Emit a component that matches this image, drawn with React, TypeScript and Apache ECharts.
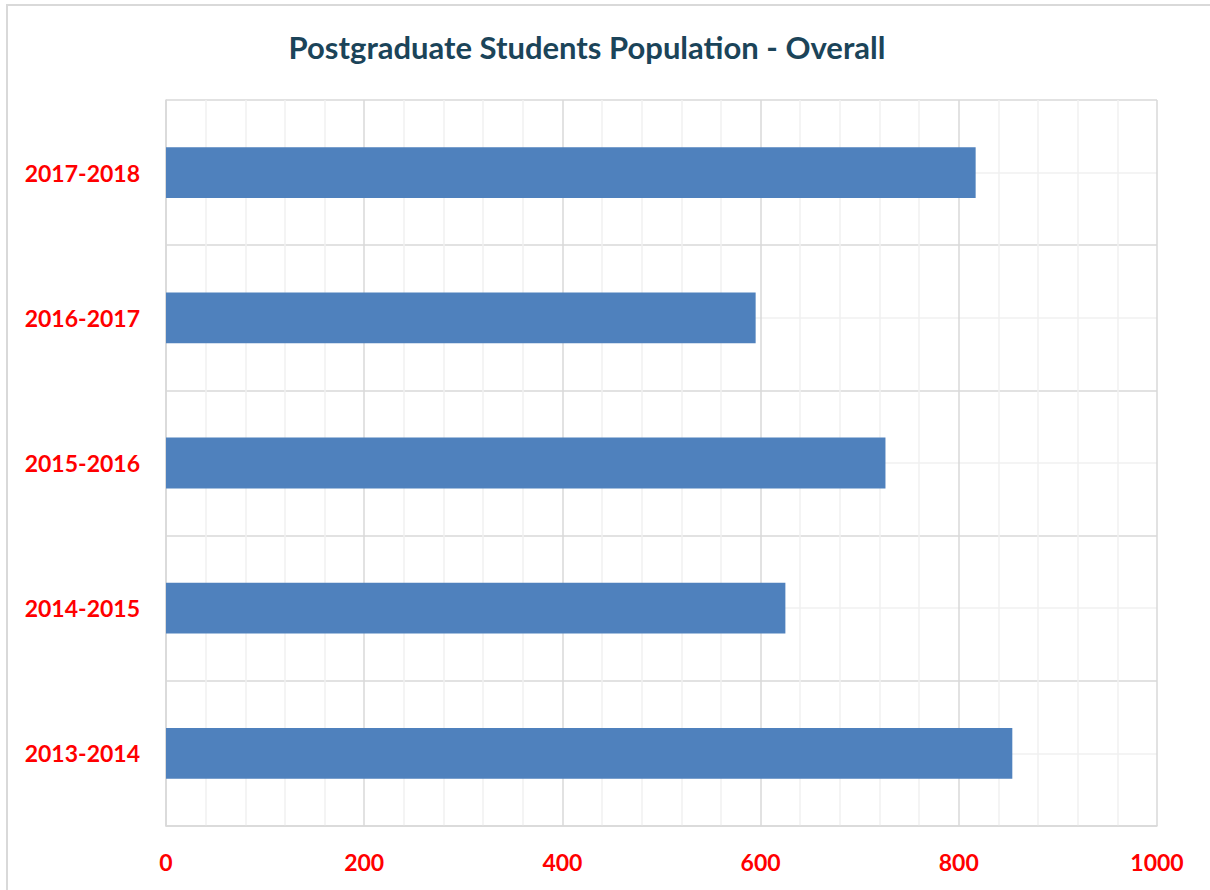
import React, { useEffect, useRef } from "react";
import * as echarts from "echarts";

const titleText = "Postgraduate Students Population - Overall";
const categories = ["2013-2014", "2014-2015", "2015-2016", "2016-2017", "2017-2018"];
const students = [854, 625, 726, 595, 817];
const xTicks = [0, 200, 400, 600, 800, 1000];

const FONT = "Lato, 'Open Sans', sans-serif";

export default function App() {
  const ref = useRef<HTMLDivElement>(null);
  useEffect(() => {
    if (!ref.current) return;
    const chart = echarts.init(ref.current, undefined, { renderer: "svg" });
    chart.setOption({
      animation: false,
      backgroundColor: "#ffffff",
      textStyle: { fontFamily: FONT },
      graphic: [
        {
          type: "rect",
          z: -10,
          shape: { x: 7, y: 5, width: 1400, height: 1000 },
          style: { fill: "none", stroke: "#d9d9d9", lineWidth: 2 },
        },
        {
          type: "text",
          x: 587,
          y: 47,
          style: {
            text: titleText,
            fontFamily: FONT,
            fontSize: 31,
            fontWeight: "bold",
            fill: "#1b4459",
            align: "center",
            verticalAlign: "middle",
          },
        },
      ],
      grid: { left: 166, right: 53, top: 100, bottom: 64, containLabel: false },
      xAxis: {
        type: "value",
        min: xTicks[0],
        max: xTicks[xTicks.length - 1],
        interval: xTicks[1] - xTicks[0],
        axisLine: { show: true, lineStyle: { color: "#d9d9d9", width: 1.5 } },
        axisTick: { show: false },
        axisLabel: {
          color: "#ff0000",
          fontWeight: "bold",
          fontSize: 23,
          fontFamily: FONT,
          margin: 24,
          formatter: (v: number) => String(v),
        },
        splitLine: { show: true, lineStyle: { color: "#d9d9d9", width: 1.5 } },
        minorTick: { show: false, splitNumber: 5 },
        minorSplitLine: { show: true, lineStyle: { color: "#f0f0f0", width: 1.5 } },
      },
      yAxis: [
        {
          type: "category",
          data: categories,
          axisLine: { show: true, lineStyle: { color: "#d9d9d9", width: 1.5 } },
          axisTick: { show: false },
          axisLabel: {
            color: "#ff0000",
            fontWeight: "bold",
            fontSize: 23,
            fontFamily: FONT,
            margin: 26,
          },
          splitLine: { show: false },
        },
        {
          type: "value",
          position: "left",
          min: 0,
          max: categories.length,
          interval: 1,
          axisLine: { show: false },
          axisTick: { show: false },
          axisLabel: { show: false },
          splitLine: { show: true, lineStyle: { color: "#d9d9d9", width: 1.5 } },
          minorTick: { show: false, splitNumber: 2 },
          minorSplitLine: { show: true, lineStyle: { color: "#f0f0f0", width: 1.5 } },
        },
      ],
      series: [
        {
          type: "bar",
          yAxisIndex: 0,
          data: students,
          barWidth: "35%",
          itemStyle: { color: "#4f81bd" },
        },
      ],
    });
    return () => chart.dispose();
  }, []);
  return (
    <div
      ref={ref}
      style={{ position: "absolute", left: 0, top: 0, width: 1210, height: 890 }}
    />
  );
}
